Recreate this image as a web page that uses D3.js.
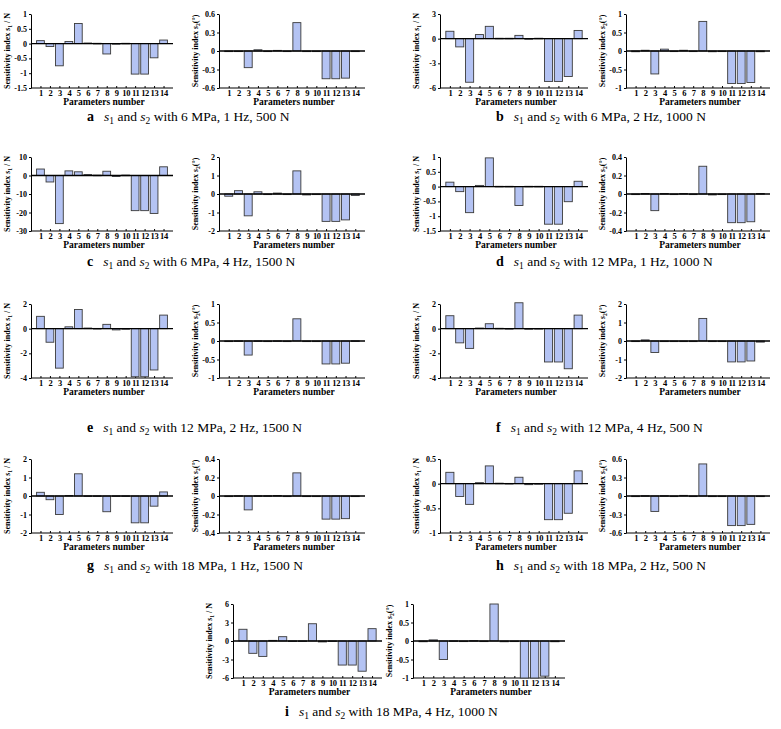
<!DOCTYPE html>
<html>
<head>
<meta charset="utf-8">
<script src="https://cdn.jsdelivr.net/npm/d3@7"></script>
<style>
  body { margin: 0; background: #fff; }
  text { font-family: "Liberation Serif", "DejaVu Serif", serif; }
</style>
</head>
<body>
<div id="container"></div>
<script>
const params = [1, 2, 3, 4, 5, 6, 7, 8, 9, 10, 11, 12, 13, 14];

// s1 (N) and s2 (deg) sensitivity indices per case
const s1A = [0.1, -0.1, -0.75, 0.07, 0.68, 0.02, 0.01, -0.35, -0.02, 0.01, -1.03, -1.03, -0.48, 0.12];
const s2A = [-0.01, 0, -0.27, 0.02, -0.005, 0.01, -0.005, 0.46, -0.01, 0, -0.45, -0.45, -0.44, -0.01];
const s1B = [0.9, -1.0, -5.3, 0.5, 1.5, 0.05, 0.05, 0.4, -0.05, 0.05, -5.2, -5.2, -4.6, 1.0];
const s2B = [-0.02, 0.02, -0.62, 0.05, 0, 0.02, 0, 0.8, -0.02, 0, -0.88, -0.88, -0.85, -0.02];
const s1C = [3.5, -3.5, -26, 2.5, 2, 0.5, 0.2, 2.3, -0.5, 0.2, -19, -19, -20.5, 4.7];
const s2C = [-0.12, 0.18, -1.18, 0.12, -0.03, 0.05, 0, 1.25, -0.05, 0, -1.48, -1.48, -1.4, -0.08];
const s1D = [0.15, -0.17, -0.88, 0.04, 0.97, 0.01, 0.01, -0.64, 0.01, 0.01, -1.27, -1.27, -0.51, 0.18];
const s2D = [-0.005, 0.005, -0.18, 0.005, 0, 0.005, 0, 0.3, -0.01, 0, -0.31, -0.31, -0.3, 0.005];
const s1E = [1.0, -1.1, -3.2, 0.15, 1.55, 0.05, 0.02, 0.35, -0.1, -0.03, -3.9, -3.9, -3.35, 1.1];
const s2E = [-0.01, 0.005, -0.38, 0.005, -0.01, 0.005, 0, 0.6, -0.005, 0, -0.62, -0.62, -0.6, 0.005];
const s1F = [1.05, -1.15, -1.6, 0.05, 0.4, 0.03, 0.01, 2.1, -0.05, 0.01, -2.7, -2.7, -3.25, 1.1];
const s2F = [-0.03, 0.06, -0.62, -0.02, -0.02, -0.02, -0.02, 1.22, -0.03, -0.03, -1.13, -1.13, -1.08, -0.06];
const s1G = [0.2, -0.2, -1.0, 0.03, 1.2, 0.01, 0.01, -0.85, 0.01, 0.01, -1.45, -1.45, -0.55, 0.22];
const s2G = [0, 0.003, -0.15, 0.003, 0.003, 0.005, 0, 0.25, -0.005, 0, -0.25, -0.25, -0.245, 0];
const s1H = [0.23, -0.26, -0.42, 0.02, 0.36, 0.01, 0.005, 0.13, -0.02, 0, -0.73, -0.73, -0.6, 0.26];
const s2H = [-0.01, 0.005, -0.25, 0.005, 0, 0.01, 0, 0.52, -0.01, 0, -0.48, -0.48, -0.46, -0.01];
const s1I = [1.9, -2.0, -2.5, 0.1, 0.7, 0.02, 0.02, 2.8, -0.15, 0.02, -3.9, -3.9, -4.9, 2.0];
const s2I = [-0.02, 0.03, -0.5, 0.005, 0, 0.01, 0, 1.0, -0.02, 0, -1.0, -1.0, -0.95, -0.02];

// y tick values
const ticks15 = [-1.5, -1, -0.5, 0, 0.5, 1];
const ticks06 = [-0.6, -0.3, 0, 0.3, 0.6];
const ticks63 = [-6, -3, 0, 3];
const ticks1 = [-1, -0.5, 0, 0.5, 1];
const ticks30 = [-30, -20, -10, 0, 10];
const ticks2 = [-2, -1, 0, 1, 2];
const ticks04 = [-0.4, -0.2, 0, 0.2, 0.4];
const ticks42 = [-4, -2, 0, 2];
const ticks105 = [-1, -0.5, 0, 0.5];
const ticks6 = [-6, -3, 0, 3, 6];

const letters = ['a', 'b', 'c', 'd', 'e', 'f', 'g', 'h', 'i'];
const conditions = ['6 MPa, 1 Hz, 500 N', '6 MPa, 2 Hz, 1000 N', '6 MPa, 4 Hz, 1500 N',
  '12 MPa, 1 Hz, 1000 N', '12 MPa, 2 Hz, 1500 N', '12 MPa, 4 Hz, 500 N',
  '18 MPa, 1 Hz, 1500 N', '18 MPa, 2 Hz, 500 N', '18 MPa, 4 Hz, 1000 N'];

const s1All = [s1A, s1B, s1C, s1D, s1E, s1F, s1G, s1H, s1I];
const s2All = [s2A, s2B, s2C, s2D, s2E, s2F, s2G, s2H, s2I];
const t1All = [ticks15, ticks63, ticks30, ticks15, ticks42, ticks42, ticks2, ticks105, ticks6];
const t2All = [ticks06, ticks1, ticks2, ticks04, ticks1, ticks2, ticks04, ticks06, ticks1];

// layout
const w = 781, h = 729;
const rowTop = [14, 157, 304, 459, 604];
const capY = [121, 266, 432, 570, 716];
const plotH = 74;
const cols = {
  L: {s1: [31, 173], s2: [219, 365], cap: 87},
  R: {s1: [440, 588], s2: [626, 770], cap: 496},
  C: {s1: [233, 382], s2: [413, 565], cap: 285}
};
const place = [['L', 0], ['R', 0], ['L', 1], ['R', 1], ['L', 2], ['R', 2], ['L', 3], ['R', 3], ['C', 4]];

const svg = d3.select('#container')
  .append('svg')
  .attr('width', w)
  .attr('height', h)
  .attr('viewBox', [0, 0, w, h]);

function drawPanel(x0, x1, top, vals, ticks, which) {
  const g = svg.append('g');
  const bottom = top + plotH;
  const x = d3.scalePoint().domain(params).range([x0, x1]).padding(1);
  const y = d3.scaleLinear().domain(d3.extent(ticks)).range([bottom, top]);
  const bw = x.step() * 0.82;

  g.append('g')
    .attr('transform', 'translate(' + x0 + ',0)')
    .call(d3.axisLeft(y).tickValues(ticks).tickSize(2).tickSizeOuter(0).tickFormat(d => String(d)))
    .call(a => a.selectAll('text').attr('font-size', 8).attr('font-weight', 'bold').attr('dx', 1))
    .call(a => a.selectAll('line,path').attr('stroke', '#000'));

  g.append('g')
    .attr('transform', 'translate(0,' + bottom + ')')
    .call(d3.axisBottom(x).tickSize(-2).tickSizeOuter(0))
    .call(a => a.select('.domain').attr('d', 'M' + x0 + ',0H' + x1).attr('stroke', '#000'))
    .call(a => a.selectAll('text').attr('font-size', 8.5).attr('font-weight', 'bold')
      .attr('letter-spacing', -0.3).attr('y', 1.5))
    .call(a => a.selectAll('line').attr('stroke', '#000'));

  g.selectAll('rect.bar')
    .data(vals)
    .enter()
    .append('rect')
    .attr('class', 'bar')
    .attr('x', (d, i) => x(params[i]) - bw / 2)
    .attr('y', d => y(Math.max(0, d)))
    .attr('width', bw)
    .attr('height', d => Math.max(0.6, Math.abs(y(d) - y(0))))
    .attr('fill', '#b4c3f3')
    .attr('stroke', '#3a3a3a')
    .attr('stroke-width', 0.9);

  g.append('line')
    .attr('x1', x0).attr('x2', x1)
    .attr('y1', y(0)).attr('y2', y(0))
    .attr('stroke', '#000').attr('stroke-width', 1.3);

  g.append('text')
    .attr('x', (x0 + x1) / 2 + 2)
    .attr('y', bottom + 16.5)
    .attr('text-anchor', 'middle')
    .attr('font-size', 9.5)
    .attr('font-weight', 'bold')
    .text('Parameters number');

  const lab = g.append('text')
    .attr('transform', 'translate(' + (x0 - 21) + ',' + (top + plotH / 2) + ') rotate(-90)')
    .attr('text-anchor', 'middle')
    .attr('font-size', 8)
    .attr('font-weight', 'bold');
  lab.append('tspan').text('Sensitivity index ');
  lab.append('tspan').attr('font-style', 'italic').text('s');
  lab.append('tspan').attr('font-size', 5.5).attr('dy', 2).text(which);
  lab.append('tspan').attr('dy', -2).text(which === 1 ? ' / N' : '(°)');
}

function drawCaption(xl, yb, letter, cond) {
  const t = svg.append('text')
    .attr('x', xl)
    .attr('y', yb)
    .attr('font-size', 13.5);
  t.append('tspan').attr('font-weight', 'bold').attr('font-size', 14).text(letter);
  t.append('tspan').attr('dx', 10).attr('font-style', 'italic').text('s');
  t.append('tspan').attr('font-size', 9.5).attr('dy', 3).text('1');
  t.append('tspan').attr('dy', -3).text(' and ');
  t.append('tspan').attr('font-style', 'italic').text('s');
  t.append('tspan').attr('font-size', 9.5).attr('dy', 3).text('2');
  t.append('tspan').attr('dy', -3).text(' with ' + cond);
}

letters.forEach((L, k) => {
  const c = cols[place[k][0]];
  const r = place[k][1];
  drawPanel(c.s1[0], c.s1[1], rowTop[r], s1All[k], t1All[k], 1);
  drawPanel(c.s2[0], c.s2[1], rowTop[r], s2All[k], t2All[k], 2);
  drawCaption(c.cap, capY[r], L, conditions[k]);
});
</script>
</body>
</html>
